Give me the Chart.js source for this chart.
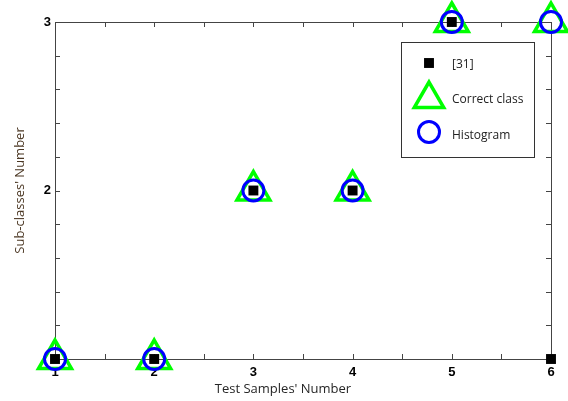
<!DOCTYPE html>
<html>
<head>
<meta charset="utf-8">
<script src="https://cdn.jsdelivr.net/npm/chart.js@4.4.0/dist/chart.umd.min.js"></script>
<style>
  html, body { margin: 0; padding: 0; background: #fff; }
  #wrap { width: 568px; height: 401px; }
</style>
</head>
<body>
<div id="wrap"><canvas id="subcls" width="568" height="401"></canvas></div>
<script>
// test sample number on the x axis
const samples = [1, 2, 3, 4, 5, 6];
// sub-class chosen for each sample
const ref31     = [1, 1, 2, 2, 3, 1];
const correct   = [1, 1, 2, 2, 3, 3];
const histogram = [1, 1, 2, 2, 3, 3];

const seriesNames = ['[31]', 'Correct class', 'Histogram'];
const xTickLabels = [1, 2, 3, 4, 5, 6];
const yTickLabels = [2, 3];

const AXIS_COL = '#444';
const tickFont = { family: 'Liberation Sans', size: 13, weight: 'bold' };

function toPoints(ys) {
  return samples.map((x, i) => ({ x: x, y: ys[i] }));
}

function labelIf(list) {
  return (v) => list.some(k => Math.abs(k - v) < 1e-6) ? String(Math.round(v)) : '';
}

// box around the plot + short inward ticks on all four sides
const frame = {
  id: 'frame',
  beforeDraw(chart) {
    const ctx = chart.ctx;
    ctx.save();
    ctx.fillStyle = '#fff';
    ctx.fillRect(0, 0, chart.width, chart.height);
    ctx.restore();
  },
  beforeDatasetsDraw(chart) {
    const { ctx, chartArea: a, scales } = chart;
    const len = 5;
    ctx.save();
    ctx.strokeStyle = AXIS_COL;
    ctx.lineWidth = 1;
    ctx.strokeRect(a.left + 0.5, a.top + 0.5, a.right - a.left, a.bottom - a.top);
    ctx.beginPath();
    scales.x.ticks.forEach(t => {
      const px = Math.round(scales.x.getPixelForValue(t.value)) + 0.5;
      ctx.moveTo(px, a.bottom); ctx.lineTo(px, a.bottom - len);
      ctx.moveTo(px, a.top);    ctx.lineTo(px, a.top + len);
    });
    scales.y.ticks.forEach(t => {
      const py = Math.round(scales.y.getPixelForValue(t.value)) + 0.5;
      ctx.moveTo(a.left, py);  ctx.lineTo(a.left + len, py);
      ctx.moveTo(a.right, py); ctx.lineTo(a.right - len, py);
    });
    ctx.stroke();

    // axis titles
    ctx.font = '13px "Open Sans"';
    ctx.textAlign = 'center';
    ctx.textBaseline = 'middle';
    ctx.fillStyle = '#262626';
    ctx.fillText("Test Samples' Number", 283, 389);
    ctx.translate(20, (a.top + a.bottom) / 2);
    ctx.rotate(-Math.PI / 2);
    ctx.fillStyle = '#4a3622';
    ctx.fillText("Sub-classes' Number", 0, 0);
    ctx.restore();
  },
  afterDraw(chart) {
    // legend box, top right inside the plot
    const ctx = chart.ctx;
    const ds = chart.data.datasets;
    const box = { x: 401.5, y: 42.5, w: 133, h: 115 };
    const rows = [
      { my: 63,  ty: 65,  r: 7 },
      { my: 99,  ty: 100, r: 17 },
      { my: 132, ty: 136, r: 10.5 }
    ];
    ctx.save();
    ctx.fillStyle = '#fff';
    ctx.fillRect(box.x, box.y, box.w, box.h);
    ctx.strokeStyle = '#333';
    ctx.lineWidth = 1;
    ctx.strokeRect(box.x, box.y, box.w, box.h);
    rows.forEach((row, i) => {
      const d = ds[i];
      ctx.fillStyle = d.backgroundColor;
      ctx.strokeStyle = d.borderColor;
      ctx.lineWidth = d.borderWidth;
      Chart.helpers.drawPoint(ctx, {
        pointStyle: d.pointStyle, rotation: 0,
        radius: row.r, borderWidth: d.borderWidth
      }, 429, row.my);
      ctx.fillStyle = '#222';
      ctx.font = '12px "Open Sans"';
      ctx.textAlign = 'left';
      ctx.textBaseline = 'middle';
      ctx.fillText(seriesNames[i], 452, row.ty);
    });
    ctx.restore();
  }
};

new Chart(document.getElementById('subcls'), {
  type: 'scatter',
  data: {
    datasets: [
      {
        label: seriesNames[0],
        data: toPoints(ref31),
        pointStyle: 'rect',
        pointRadius: 7,
        backgroundColor: '#000',
        borderColor: '#000',
        borderWidth: 0,
        clip: false,
        order: 0
      },
      {
        label: seriesNames[1],
        data: toPoints(correct),
        pointStyle: 'triangle',
        pointRadius: 19,
        backgroundColor: 'rgba(0,0,0,0)',
        borderColor: '#00ff00',
        borderWidth: 3.5,
        clip: false,
        order: 2
      },
      {
        label: seriesNames[2],
        data: toPoints(histogram),
        pointStyle: 'circle',
        pointRadius: 10.5,
        backgroundColor: 'rgba(0,0,0,0)',
        borderColor: '#0000ff',
        borderWidth: 3,
        clip: false,
        order: 1
      }
    ]
  },
  options: {
    responsive: false,
    animation: false,
    events: [],
    layout: { autoPadding: false, padding: { top: 22, right: 17, left: 0, bottom: 0 } },
    plugins: {
      legend: { display: false },
      tooltip: { enabled: false }
    },
    scales: {
      x: {
        type: 'linear',
        min: 1,
        max: 6,
        grid: { display: false, drawTicks: false },
        border: { display: false },
        ticks: {
          stepSize: 0.5,
          autoSkip: false,
          maxRotation: 0,
          padding: 6,
          color: '#000',
          font: tickFont,
          callback: labelIf(xTickLabels)
        },
        afterFit(s) { s.height = 42; }
      },
      y: {
        type: 'linear',
        min: 1,
        max: 3,
        grid: { display: false, drawTicks: false },
        border: { display: false },
        ticks: {
          stepSize: 0.2,
          autoSkip: false,
          padding: 4,
          color: '#000',
          font: tickFont,
          callback: labelIf(yTickLabels)
        },
        afterFit(s) { s.width = 55; }
      }
    }
  },
  plugins: [frame]
});
</script>
</body>
</html>
